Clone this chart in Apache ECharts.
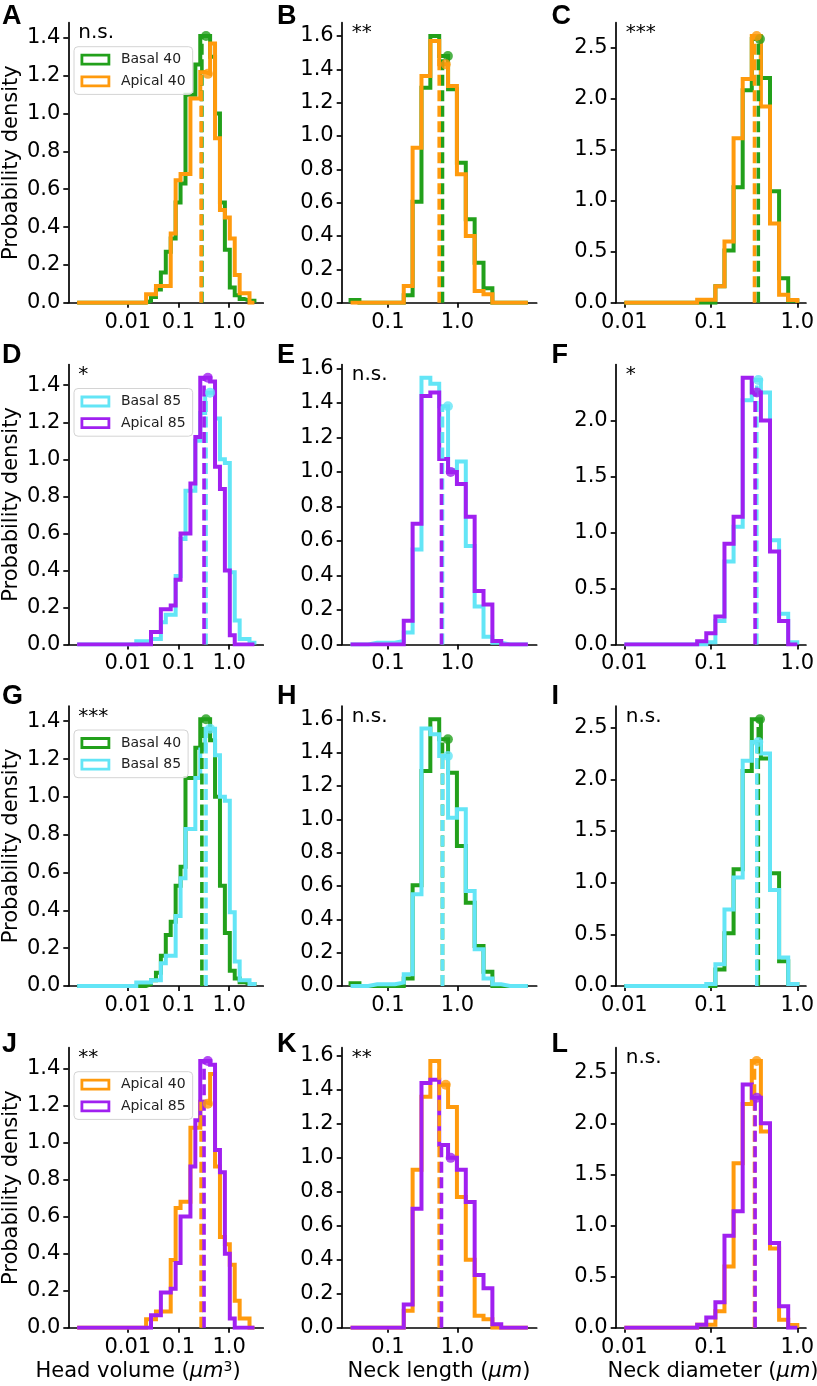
<!DOCTYPE html>
<html><head><meta charset="utf-8">
<script src="https://cdn.jsdelivr.net/npm/echarts@6/dist/echarts.min.js"></script>
<style>html,body{margin:0;padding:0;background:#fff}#c{width:817px;height:1386px}</style>
</head><body><div id="c"></div>
<script>
// ---------------- data ----------------
const GROUPS = ['Basal 40', 'Apical 40', 'Basal 85', 'Apical 85'];
const COLORS = ['#22a01b', '#ff9a0d', '#63e5f6', '#a020f0'];

// bin edges (log spaced)
const HV_EDGES = [0.001,0.001251,0.001565,0.001957,0.002448,0.003063,0.003831,0.004792,0.005994,0.007498,0.009379,0.01173,0.01468,0.01836,0.02296,0.02872,0.03593,0.04494,0.05622,0.07032,0.08797,0.1100,0.1376,0.1722,0.2154,0.2694,0.3370,0.4215,0.5273,0.6596,0.8250,1.032,1.291,1.615,2.020,2.527,3.162];
const NL_EDGES = [0.02897,0.03887,0.05214,0.06995,0.09385,0.1259,0.1689,0.2266,0.3040,0.4078,0.5471,0.7339,0.9845,1.321,1.772,2.377,3.189,4.278,5.739,7.699,10.33];
const ND_EDGES = [0.01,0.01274,0.01624,0.02069,0.02637,0.03360,0.04281,0.05456,0.06952,0.08859,0.1129,0.1438,0.1833,0.2336,0.2976,0.3793,0.4833,0.6158,0.7848,1.0];

// head volume densities (36 bins)
const HV_BASAL40  = [0,0,0,0,0,0,0,0,0,0,0,0,0,0,0.01,0.03,0.07,0.16,0.27,0.34,0.53,0.63,1.10,1.10,1.26,1.41,1.41,1.30,1.00,0.53,0.28,0.08,0.04,0.02,0.01,0.01];
const HV_APICAL40 = [0,0,0,0,0,0,0,0,0,0,0,0,0,0,0.045,0.045,0.088,0.088,0.088,0.366,0.647,0.68,0.68,1.08,1.08,1.22,1.21,1.37,0.87,0.49,0.45,0.34,0.146,0.05,0.05,0];
const HV_BASAL85  = [0,0,0,0,0,0,0,0,0,0,0,0,0.018,0.018,0.018,0.03,0.03,0.12,0.16,0.16,0.37,0.57,0.83,0.83,1.10,1.25,1.36,1.36,1.22,1.00,0.98,0.39,0.13,0.03,0.03,0.01];
const HV_APICAL85 = [0,0,0,0,0,0,0,0,0,0,0,0,0,0,0,0.067,0.067,0.19,0.19,0.21,0.35,0.60,0.60,0.87,1.12,1.44,1.44,1.42,0.96,0.84,0.40,0.05,0,0,0,0];
// neck length densities (20 bins)
const NL_BASAL40  = [0.016,0,0,0,0,0,0.045,0.605,1.29,1.60,1.48,1.28,0.84,0.50,0.24,0.086,0,0,0,0];
const NL_APICAL40 = [0,0,0,0,0,0,0.10,0.93,1.36,1.57,1.43,1.30,0.77,0.40,0.07,0.05,0,0,0,0];
const NL_BASAL85  = [0,0,0.01,0.01,0.01,0.02,0.07,0.55,1.545,1.51,1.38,1.01,1.06,0.57,0.22,0.045,0.01,0,0,0];
const NL_APICAL85 = [0,0,0,0,0,0,0.137,0.70,1.44,1.46,1.075,1.00,0.93,0.74,0.31,0.232,0.02,0,0,0];
// neck diameter densities (19 bins)
const ND_BASAL40  = [0,0,0,0,0,0,0,0,0,0,0.16,0.51,1.13,2.08,2.58,2.20,1.09,0.24,0.02];
const ND_APICAL40 = [0,0,0,0,0,0,0,0,0.03,0.03,0.16,0.60,1.61,2.19,2.61,1.92,0.775,0.078,0.026];
const ND_BASAL85  = [0,0,0,0,0,0,0,0,0,0.02,0.21,0.74,1.05,2.18,2.36,2.25,0.93,0.275,0.02];
const ND_APICAL85 = [0,0,0,0,0,0,0,0,0.03,0.10,0.25,0.90,1.14,2.38,2.25,2.00,0.83,0.21,0];

// medians (dashed) and means (dots), order = GROUPS
const HV_MEDIAN = [0.29, 0.28, 0.35, 0.32];
const HV_MEAN   = [0.35, 0.38, 0.42, 0.38];
const NL_MEDIAN = [0.61, 0.547, 0.61, 0.59];
const NL_MEAN   = [0.73, 0.68, 0.73, 0.80];
const ND_MEDIAN = [0.354, 0.32, 0.34, 0.325];
const ND_MEAN   = [0.37, 0.339, 0.354, 0.34];

// axis ticks
const HV_XTICKS = [0.01, 0.1, 1.0];
const NL_XTICKS = [0.1, 1.0];
const ND_XTICKS = [0.01, 0.1, 1.0];
const HV_YSTEP = 0.2, NL_YSTEP = 0.2, ND_YSTEP = 0.5;

const PAIRS = [[0,1],[2,3],[0,2],[1,3]];
const SIGNIF = [['n.s.','**','***'],['*','n.s.','*'],['***','n.s.','n.s.'],['**','**','n.s.']];
const LETTERS = ['A','B','C','D','E','F','G','H','I','J','K','L'];

// ---------------- layout ----------------
const COL_LEFT = [68.3, 341.7, 615.7];
const COL_W = [195, 195, 196];
const ROW_TOP = [22.7, 364.5, 706, 1047.7];
const ROW_H = 280;
const FONT = 'DejaVu Sans';
const FS = 21;

const FEATURES = [
  {edges: HV_EDGES, dens: [HV_BASAL40, HV_APICAL40, HV_BASAL85, HV_APICAL85], med: HV_MEDIAN, mean: HV_MEAN, xt: HV_XTICKS, ys: HV_YSTEP},
  {edges: NL_EDGES, dens: [NL_BASAL40, NL_APICAL40, NL_BASAL85, NL_APICAL85], med: NL_MEDIAN, mean: NL_MEAN, xt: NL_XTICKS, ys: NL_YSTEP},
  {edges: ND_EDGES, dens: [ND_BASAL40, ND_APICAL40, ND_BASAL85, ND_APICAL85], med: ND_MEDIAN, mean: ND_MEAN, xt: ND_XTICKS, ys: ND_YSTEP}
];

function stepPoints(edges, dens) {
  const pts = [[edges[0], 0]];
  for (let i = 0; i < dens.length; i++) { pts.push([edges[i], dens[i]]); pts.push([edges[i+1], dens[i]]); }
  pts.push([edges[edges.length-1], 0]);
  return pts;
}
function densAt(edges, dens, x) {
  for (let i = 0; i < dens.length; i++) if (x >= edges[i] && x < edges[i+1]) return dens[i];
  return 0;
}
function fmtX(v) { return v >= 1 ? Number(v).toFixed(1) : String(Number(Number(v).toPrecision(1))); }

const grids = [], xAxes = [], yAxes = [], series = [], legends = [], graphics = [];
const axisLine = {show: true, onZero: false, lineStyle: {color: '#000', width: 1.7}};

for (let r = 0; r < 4; r++) {
  for (let c = 0; c < 3; c++) {
    const gi = r*3 + c;
    const f = FEATURES[c];
    const pair = PAIRS[r];
    grids.push({left: COL_LEFT[c], top: ROW_TOP[r], width: COL_W[c], height: ROW_H, containLabel: false});
    const l0 = Math.log10(f.edges[0]), l1 = Math.log10(f.edges[f.edges.length-1]);
    const pad = 0.05*(l1-l0);
    xAxes.push({
      gridIndex: gi, type: 'log', logBase: 10,
      min: Math.pow(10, l0 - pad), max: Math.pow(10, l1 + pad),
      axisLine: axisLine,
      axisTick: {show: true, length: 5, lineStyle: {color: '#000', width: 1.7}, customValues: f.xt},
      axisLabel: {customValues: f.xt, formatter: fmtX, fontFamily: FONT, fontSize: FS, color: '#000', margin: 9},
      minorTick: {show: false}, splitLine: {show: false}
    });
    let ymax = 0;
    pair.forEach(g => { ymax = Math.max(ymax, Math.max.apply(null, f.dens[g])); });
    ymax *= 1.05;
    const yt = [];
    for (let v = 0; v <= ymax + 1e-9; v += f.ys) yt.push(Math.round(v*10)/10);
    yAxes.push({
      gridIndex: gi, type: 'value', min: 0, max: ymax,
      axisLine: axisLine,
      axisTick: {show: true, length: 5, lineStyle: {color: '#000', width: 1.7}, customValues: yt},
      axisLabel: {customValues: yt, formatter: v => Number(v).toFixed(1), fontFamily: FONT, fontSize: FS, color: '#000', margin: 8},
      splitLine: {show: false},
      name: c === 0 ? 'Probability density' : '',
      nameLocation: 'middle', nameRotate: 90, nameGap: 46,
      nameTextStyle: {fontFamily: FONT, fontSize: FS, color: '#000'}
    });
    // histograms
    pair.forEach(g => {
      series.push({
        type: 'line', name: GROUPS[g], xAxisIndex: gi, yAxisIndex: gi,
        data: stepPoints(f.edges, f.dens[g]), showSymbol: false, symbol: 'none',
        lineStyle: {color: COLORS[g], width: 4, join: 'miter', cap: 'butt'},
        itemStyle: {color: COLORS[g]}, animation: false, silent: true
      });
    });
    // medians (dashed)
    pair.forEach(g => {
      const m = f.med[g];
      series.push({
        type: 'line', name: GROUPS[g] + ' median', xAxisIndex: gi, yAxisIndex: gi,
        data: [[m, 0], [m, densAt(f.edges, f.dens[g], m)]], showSymbol: false, symbol: 'none',
        lineStyle: {color: COLORS[g], width: 3.6, type: [11, 4.5], cap: 'butt'},
        animation: false, silent: true
      });
    });
    // means (dots)
    pair.forEach(g => {
      const m = f.mean[g];
      series.push({
        type: 'scatter', name: GROUPS[g] + ' mean', xAxisIndex: gi, yAxisIndex: gi,
        data: [[m, densAt(f.edges, f.dens[g], m)]], symbolSize: 10,
        itemStyle: {color: COLORS[g]}, animation: false, silent: true, z: 3
      });
    });
    if (c === 0) {
      legends.push({
        left: COL_LEFT[c] + 5.7, top: ROW_TOP[r] + 24, orient: 'vertical',
        data: pair.map(g => ({name: GROUPS[g], icon: 'rect', itemStyle: {color: '#ffffff', borderColor: COLORS[g], borderWidth: 2.8}})),
        itemWidth: 27, itemHeight: 9, itemGap: 7.7,
        padding: [6, 7, 6, 6.5],
        backgroundColor: 'rgba(255,255,255,0.8)', borderColor: '#d4d4d4', borderWidth: 1, borderRadius: 4,
        textStyle: {fontFamily: FONT, fontSize: 14, color: '#222', padding: [0, 0, 0, 7]},
        selectedMode: false
      });
    }
    // significance text
    graphics.push({type: 'text', x: COL_LEFT[c] + 10, y: ROW_TOP[r] + 0.5,
      style: {text: SIGNIF[r][c], font: '20px "DejaVu Sans"', fill: '#000', align: 'left', verticalAlign: 'top'}, silent: true});
  }
}
// panel letters
const LETTER_X = [2, 277, 551.5];
const LETTER_Y = [17, 355.5, 697, 1044.5];
for (let r = 0; r < 4; r++) for (let c = 0; c < 3; c++) {
  graphics.push({type: 'text', x: LETTER_X[c], y: LETTER_Y[r],
    style: {text: LETTERS[r*3+c], font: 'bold 27px "Liberation Sans"', fill: '#000', align: 'left', verticalAlign: 'middle'}, silent: true});
}
// x-axis titles
const XTITLES = [
  {x: 138, parts: ['Head volume (', 'μm', '3', ')']},
  {x: 439, parts: ['Neck length (', 'μm', '', ')']},
  {x: 713, parts: ['Neck diameter (', 'μm', '', ')']}
];
XTITLES.forEach(t => {
  const txt = '{n|' + t.parts[0] + '}{i|' + t.parts[1] + '}' + (t.parts[2] ? '{s|' + t.parts[2] + '}' : '') + '{n|' + t.parts[3] + '}';
  graphics.push({type: 'text', x: t.x, y: 1372,
    style: {text: txt, align: 'center', verticalAlign: 'middle',
      rich: {
        n: {fontFamily: FONT, fontSize: FS, fill: '#000', color: '#000'},
        i: {fontFamily: FONT, fontSize: FS, fontStyle: 'italic', fill: '#000', color: '#000'},
        s: {fontFamily: FONT, fontSize: 14, fill: '#000', color: '#000', verticalAlign: 'top', padding: [0, 0, 10, 0]}
      }}, silent: true});
});

const chart = echarts.init(document.getElementById('c'), null, {renderer: 'canvas', width: 817, height: 1386});
chart.setOption({
  animation: false,
  backgroundColor: '#ffffff',
  grid: grids, xAxis: xAxes, yAxis: yAxes, series: series, legend: legends,
  graphic: {elements: graphics}
});
</script>
</body></html>
